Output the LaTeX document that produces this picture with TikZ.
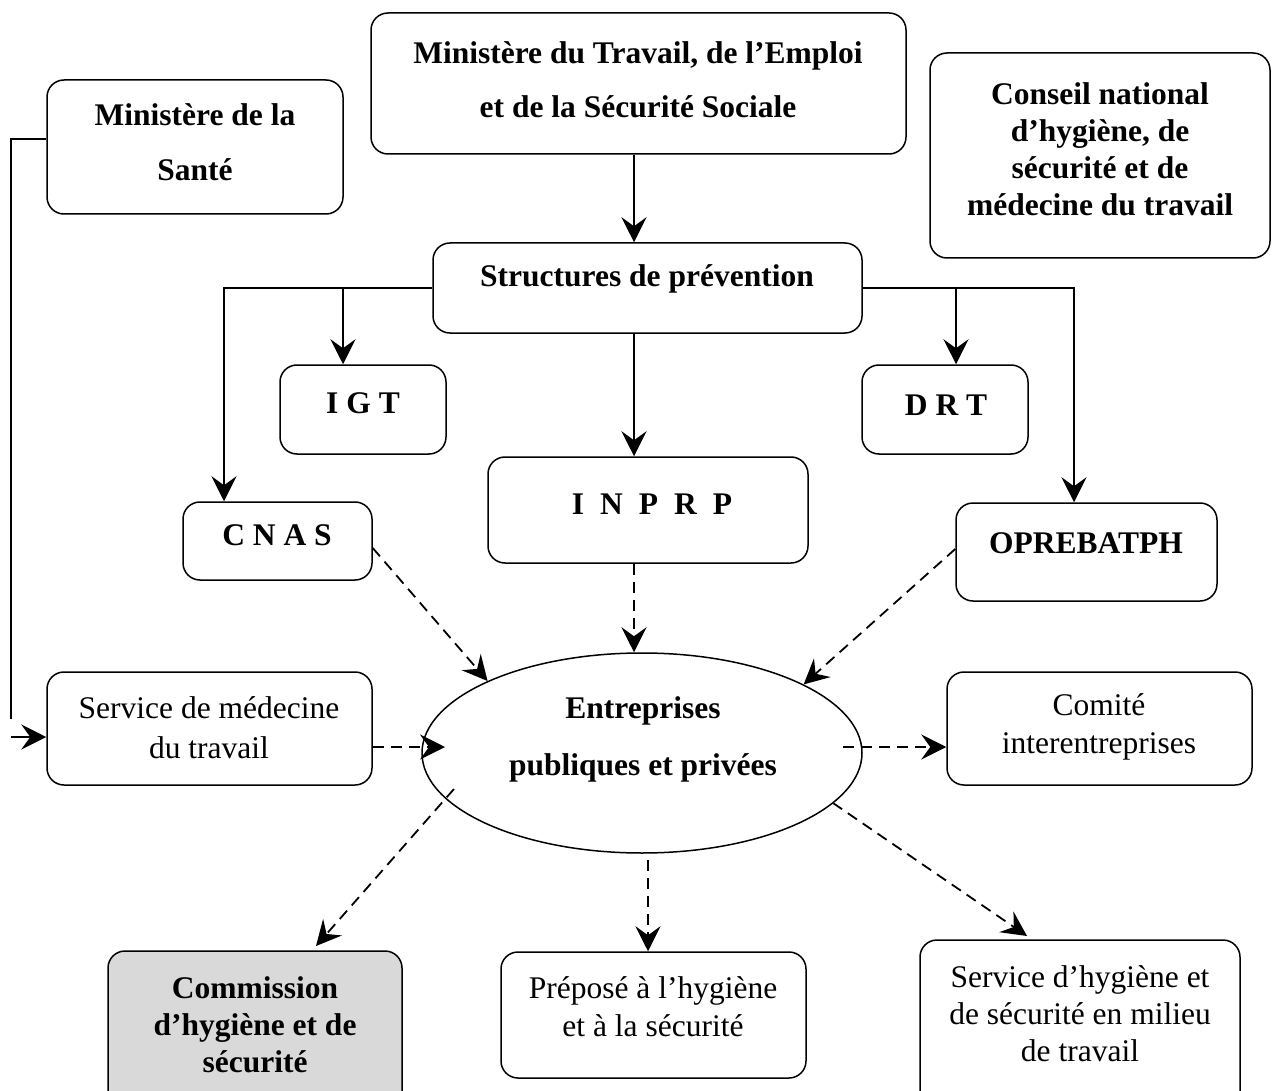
\documentclass[tikz,border=0pt]{standalone}
\usepackage{fontspec}
\setmainfont{Liberation Serif}
\usetikzlibrary{arrows.meta,shapes.geometric}
\definecolor{boxgray}{HTML}{D9D9D9}
\begin{document}
\begin{tikzpicture}[x=1pt,y=-1pt,
  bx/.style 2 args={draw, line width=1.5pt, rounded corners=17pt, inner sep=0pt, minimum width=#1, minimum height=#2},
  bt/.style={font=\fontsize{31.5}{37}\selectfont\bfseries, align=center, inner sep=0pt},
  rt/.style={font=\fontsize{31.5}{38}\selectfont, align=center, inner sep=0pt},
  wide/.style={font=\fontsize{31.5}{#1}\selectfont\bfseries},
  plainline/.style={line width=1.6pt},
  arr/.style={line width=1.6pt, -{Stealth[length=25pt,width=25pt,inset=9pt]}},
  darr/.style={arr, line width=1.8pt, dash pattern=on 11pt off 7pt}
]
\useasboundingbox (0,0) rectangle (1277,1091);
\clip (0,0) rectangle (1277,1091);

% boxes
\node[bx={535pt}{141pt}] (trav) at (638.5,83.5) {};
\node[bt, wide=54] (travT) at (638,80) {Ministère du Travail, de l’Emploi\\et de la Sécurité Sociale};
\node[bx={296pt}{134pt}] (sante) at (195,147) {};
\node[bt, wide=55] (santeT) at (195,142.5) {Ministère de la\\Santé};
\node[bx={340pt}{205pt}] (cons) at (1100,155.5) {};
\node[bt] (consT) at (1100,149.5) {Conseil national\\d’hygiène, de\\sécurité et de\\médecine du travail};
\node[bx={429pt}{90pt}] (struct) at (647.5,288) {};
\node[bt] (structT) at (647,279) {Structures de prévention};
\node[bx={166pt}{89pt}] (igt) at (363,409.5) {};
\node[bt] (igtT) at (363,403) {I G T};
\node[bx={166pt}{89pt}] (drt) at (945,409.5) {};
\node[bt] (drtT) at (946,405) {D R T};
\node[bx={189pt}{78pt}] (cnas) at (277.5,541) {};
\node[bt] (cnasT) at (277,535) {C N A S};
\node[bx={320pt}{106pt}] (inprp) at (648,510) {};
\node[bt] (inprpT) at (652,504) {I\hspace{16pt}N\hspace{16pt}P\hspace{16pt}R\hspace{16pt}P};
\node[bx={261pt}{98pt}] (opreb) at (1086.5,552) {};
\node[bt] (oprebT) at (1086,543) {OPREBATPH};
\node[draw, ellipse, line width=1.5pt, minimum width=440pt, minimum height=200pt, inner sep=0pt] (ent) at (642,753) {};
\node[bt, wide=57] (entT) at (643,739.5) {Entreprises\\publiques et privées};
\node[bx={325pt}{113pt}] (smed) at (209.5,728.5) {};
\node[rt, font=\fontsize{31.5}{40}\selectfont] (smedT) at (209,728) {Service de médecine\\du travail};
\node[bx={305pt}{113pt}] (com) at (1099.5,728.5) {};
\node[rt] (comT) at (1099,727) {Comité\\interentreprises};
\node[bx={294pt}{160pt}, fill=boxgray] (chs) at (255,1031) {};
\node[bt] (chsT) at (255,1025) {Commission\\d’hygiène et de\\sécurité};
\node[bx={305pt}{126pt}] (prep) at (653.5,1015) {};
\node[rt] (prepT) at (653,1007) {Préposé à l’hygiène\\et à la sécurité};
\node[bx={320pt}{170pt}] (shs) at (1080,1025) {};
\node[rt, font=\fontsize{31.5}{37}\selectfont] (shsT) at (1080,1014) {Service d’hygiène et\\de sécurité en milieu\\de travail};

% helper coordinates
\coordinate (c634) at (634,0);
\coordinate (bl) at (224,0);
\coordinate (bi) at (343,0);
\coordinate (br) at (1074,0);
\coordinate (bd) at (956,0);
\coordinate (sgap) at (11,719);
\coordinate (sin) at (11,737);
\coordinate (entW) at (445,747);
\coordinate (entE) at (843,747);
\coordinate (entSW) at (454,789);
\coordinate (tSW) at (316,946);
\coordinate (entS) at (648,860);
\coordinate (entSE) at (833,803);
\coordinate (tSE) at (1027,936);

% solid connectors
\draw[arr] (trav.south -| c634) -- (struct.north -| c634);
\draw[arr] (struct.south -| c634) -- (inprp.north -| c634);
\draw[arr] (struct.west) -| (cnas.north -| bl);
\draw[arr] (struct.west -| bi) -- (igt.north -| bi);
\draw[arr] (struct.east) -| (opreb.north -| br);
\draw[arr] (struct.east -| bd) -- (drt.north -| bd);
\draw[plainline] ([yshift=8pt]sante.west) -| (sgap);
\draw[arr] (sin) -- (smed.west |- sin);

% dashed connectors
\draw[darr] ([yshift=-7pt]cnas.east) -- (ent.155);
\draw[darr] (inprp.south -| c634) -- (ent.north -| c634);
\draw[darr] ([yshift=3pt]opreb.west) -- (ent.23);
\draw[darr] (smed.east |- entW) -- (entW);
\draw[darr] (entE) -- (com.west |- entE);
\draw[darr] (entSW) -- (tSW);
\draw[darr] (entS) -- (prep.north -| entS);
\draw[darr] (entSE) -- (tSE);
\end{tikzpicture}
\end{document}
